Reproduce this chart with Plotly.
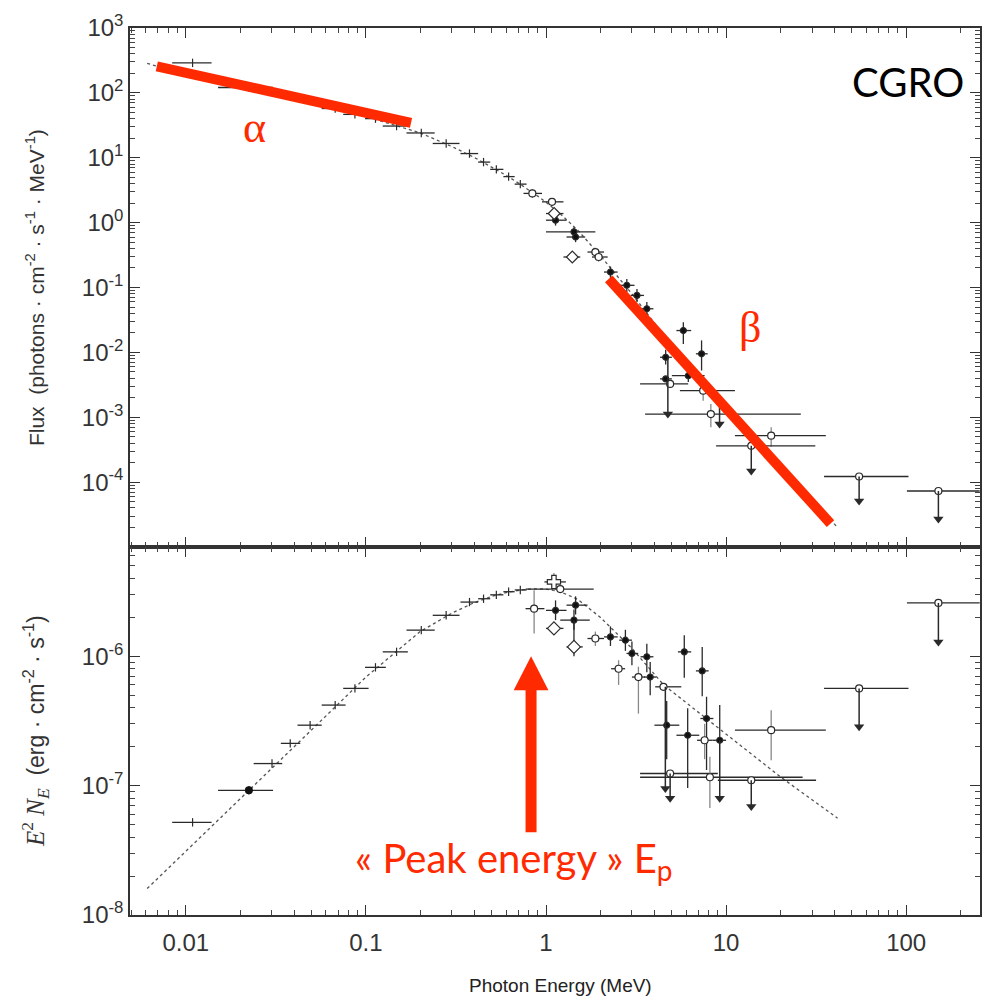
import plotly.graph_objects as go

# ---------------- data ----------------
# Band-model curve
E_model = [0.0061, 0.01, 0.02, 0.05, 0.1, 0.2, 0.3, 0.4, 0.5, 0.6, 0.7, 0.8, 0.9, 1.0,
           1.2, 1.5, 2.0, 3.0, 4.5, 7, 10, 20, 41.6]
F_model = [285, 193, 123, 67.4, 43.1, 24.2, 14.9, 10.1, 7.24, 5.37, 4.1, 3.22, 2.56, 2.06,
           1.37, 0.763, 0.312, 0.0798, 0.0185, 0.00471, 0.00156, 1.83e-4, 2.0e-5]
EF_model = [1.6e-8, 3.1e-8, 7.9e-8, 2.7e-7, 6.9e-7, 1.55e-6, 2.15e-6, 2.6e-6, 2.9e-6, 3.1e-6,
            3.22e-6, 3.3e-6, 3.32e-6, 3.3e-6, 3.15e-6, 2.75e-6, 2.0e-6, 1.15e-6, 6.0e-7,
            3.7e-7, 2.5e-7, 1.17e-7, 5.6e-8]

# low-energy points
E_low = [0.0109, 0.0224, 0.0301, 0.038, 0.049, 0.0675, 0.0869, 0.113, 0.148, 0.203,
         0.279, 0.376, 0.45, 0.53, 0.62, 0.72]
Elo_low = [0.0084, 0.0151, 0.0238, 0.0337, 0.0417, 0.0568, 0.0748, 0.0989, 0.124, 0.168,
           0.235, 0.335, 0.42, 0.49, 0.58, 0.67]
Ehi_low = [0.0139, 0.0305, 0.0343, 0.0432, 0.0568, 0.0771, 0.1035, 0.129, 0.171, 0.241,
           0.331, 0.42, 0.49, 0.58, 0.67, 0.78]
F_low = [290, 121, 102, 91.6, 76.2, 57.4, 46.6, 40.1, 30.8, 24.1, 16.6, 11.6, 8.57, 6.62,
         5.12, 3.92]
EF_low = [5.2e-8, 9.2e-8, 1.48e-7, 2.12e-7, 2.93e-7, 4.19e-7, 5.64e-7, 8.2e-7, 1.08e-6,
          1.59e-6, 2.07e-6, 2.62e-6, 2.78e-6, 2.98e-6, 3.15e-6, 3.25e-6]

# ---- top panel (photon flux) ----
Tf_E = [1.13, 1.43, 1.46, 2.28, 2.81, 3.2, 3.63, 5.79, 7.31, 4.62, 4.62, 6.17, 9.2]
Tf_V = [1.09, 0.72, 0.6, 0.173, 0.108, 0.0755, 0.047, 0.0217, 0.0095, 0.0084, 0.0039,
        0.00437, 0.0018]
Tf_Elo = [1.0, 1.0, 1.3, 2.1, 2.55, 2.95, 3.35, 5.3, 6.8, 4.3, 4.3, 5.0, 8.6]
Tf_Ehi = [1.3, 1.88, 1.65, 2.5, 3.1, 3.5, 3.95, 6.4, 7.9, 5.0, 5.0, 7.6, 9.8]
Tf_Vlo = [0.9, 0.6, 0.5, 0.14, 0.085, 0.06, 0.035, 0.0135, 0.00525, 0.0065, 0.0039,
          0.0035, 0.0018]
Tf_Vhi = [1.3, 0.85, 0.72, 0.21, 0.135, 0.095, 0.06, 0.0292, 0.0153, 0.011, 0.0039,
          0.0055, 0.0018]

To_E = [0.84, 1.08, 1.88, 1.96, 4.89, 7.46, 8.23, 17.8, 13.8, 54.8, 151]
To_V = [2.82, 2.09, 0.352, 0.295, 0.00326, 0.00257, 0.00112, 5.2e-4, 3.63e-4, 1.22e-4, 7.3e-5]
To_Elo = [0.75, 0.95, 1.7, 1.8, 3.33, 5.54, 3.55, 11.2, 8.8, 35, 101]
To_Ehi = [0.95, 1.25, 2.1, 2.2, 6.16, 11.2, 26, 35.8, 31.3, 103, 256]
To_Vlo = [2.4, 1.8, 0.3, 0.25, 0.00326, 0.0018, 7e-4, 3.5e-4, 3.63e-4, 1.22e-4, 7.3e-5]
To_Vhi = [3.3, 2.4, 0.41, 0.34, 0.00326, 0.0035, 0.0016, 7e-4, 3.63e-4, 1.22e-4, 7.3e-5]

Td_E = [1.11, 1.40]
Td_V = [1.38, 0.295]
Td_Elo = [1.0, 1.25]
Td_Ehi = [1.25, 1.55]
Td_Vlo = [1.2, 0.25]
Td_Vhi = [1.6, 0.35]

Tul_E = [4.75, 9.2, 13.8, 54.8, 151]
Tul_from = [0.0084, 0.0018, 3.63e-4, 1.22e-4, 7.3e-5]
Tul_to = [0.00112, 7.9e-4, 1.48e-4, 5.1e-5, 2.7e-5]

# ---- bottom panel (E^2 N_E) ----
Bf_E = [1.13, 1.46, 1.43, 2.28, 2.76, 3.0, 3.63, 3.79, 5.86, 7.37, 4.68, 6.12, 7.79, 9.22]
Bf_V = [2.26e-6, 2.48e-6, 1.9e-6, 1.41e-6, 1.33e-6, 1.05e-6, 9.9e-7, 6.9e-7, 1.08e-6,
        7.7e-7, 2.93e-7, 2.45e-7, 3.3e-7, 2.24e-7]
Bf_Elo = [1.0, 1.3, 1.2, 2.1, 2.55, 2.8, 3.35, 3.5, 5.4, 6.8, 4.0, 5.3, 7.2, 8.4]
Bf_Ehi = [1.3, 1.7, 1.75, 2.5, 3.0, 3.25, 3.95, 4.1, 6.4, 8.0, 5.5, 7.1, 8.5, 10.0]
Bf_Vlo = [1.9e-6, 2.1e-6, 1.6e-6, 1.2e-6, 1.1e-6, 8.5e-7, 7.5e-7, 5.0e-7, 6.8e-7, 4.9e-7,
          1.6e-7, 9.6e-8, 1.32e-7, 2.24e-7]
Bf_Vhi = [2.7e-6, 2.9e-6, 2.3e-6, 1.7e-6, 1.6e-6, 1.3e-6, 1.25e-6, 9.0e-7, 1.45e-6, 1.18e-6,
          4.5e-7, 3.96e-7, 4.86e-7, 4.2e-7]

Bo_E = [0.859, 1.2, 1.88, 2.53, 3.26, 4.49, 7.6, 17.8, 4.89, 8.13, 13.8, 54.8, 151]
Bo_V = [2.33e-6, 3.3e-6, 1.37e-6, 8.0e-7, 6.9e-7, 5.8e-7, 2.24e-7, 2.68e-7, 1.24e-7,
        1.16e-7, 1.1e-7, 5.64e-7, 2.58e-6]
Bo_Elo = [0.77, 0.77, 1.7, 2.3, 3.0, 4.04, 6.9, 11.2, 3.33, 3.33, 9.0, 35, 101]
Bo_Ehi = [0.98, 1.84, 2.1, 2.75, 3.55, 5.64, 8.4, 35.8, 9.0, 26.6, 31.6, 103, 256]
Bo_Vlo = [1.5e-6, 3.1e-6, 1.2e-6, 6.0e-7, 3.6e-7, 5.8e-7, 1.6e-7, 1.57e-7, 1.24e-7, 6.7e-8,
          1.1e-7, 5.64e-7, 2.58e-6]
Bo_Vhi = [3.24e-6, 3.5e-6, 1.55e-6, 9.3e-7, 8.3e-7, 5.8e-7, 3.0e-7, 3.83e-7, 1.24e-7,
          1.67e-7, 1.1e-7, 5.64e-7, 2.58e-6]

Bd_E = [1.107, 1.43]
Bd_V = [1.64e-6, 1.18e-6]
Bd_Elo = [1.0, 1.3]
Bd_Ehi = [1.25, 1.6]
Bd_Vlo = [1.5e-6, 1.0e-6]
Bd_Vhi = [1.8e-6, 1.9e-6]

Bc_E = [1.107]
Bc_V = [3.75e-6]
Bc_Elo = [0.98]
Bc_Ehi = [1.29]
Bc_Vlo = [3.2e-6]
Bc_Vhi = [4.4e-6]

Bul_E = [4.6, 4.89, 9.22, 13.8, 54.8, 151]
Bul_from = [5.8e-7, 1.24e-7, 2.24e-7, 1.1e-7, 5.64e-7, 2.58e-6]
Bul_to = [9.5e-8, 8.0e-8, 8.0e-8, 6.9e-8, 2.85e-7, 1.29e-6]

# annotation overlays (red)
alpha_E = [0.0069, 0.178]
alpha_F = [256, 34.5]
beta_E = [2.23, 38]
beta_F = [0.136, 2.3e-5]
peak_E = 0.826
peak_shaft = [4.36e-8, 5.6e-7]
peak_head_base = 5.45e-7
peak_tip = 1.0e-6

RED = "#ff2a00"
INK = "#2a2a2a"

fig = go.Figure()


def add_pts(E, V, Elo, Ehi, Vlo, Vhi, xa, ya, symbol, size, fill, ycol, line_w=1.2):
    fig.add_trace(go.Scatter(
        x=E, y=V, xaxis=xa, yaxis=ya, mode="markers", showlegend=False,
        marker=dict(symbol=symbol, size=size, color=fill,
                    line=dict(color=INK, width=line_w)),
        error_x=dict(type="data", symmetric=False,
                     array=[h - e for h, e in zip(Ehi, E)],
                     arrayminus=[e - l for e, l in zip(E, Elo)],
                     color=INK, thickness=1.3, width=0),
        error_y=dict(type="data", symmetric=False,
                     array=[h - v for h, v in zip(Vhi, V)],
                     arrayminus=[v - l for v, l in zip(V, Vlo)],
                     color=ycol, thickness=1.3, width=0),
    ))


def add_arrows(E, vfrom, vto, xa, ya):
    xs, ys = [], []
    for e, a, b in zip(E, vfrom, vto):
        xs += [e, e, None]
        ys += [a, b, None]
    fig.add_trace(go.Scatter(x=xs, y=ys, xaxis=xa, yaxis=ya, mode="lines",
                             line=dict(color=INK, width=1.5), showlegend=False))
    fig.add_trace(go.Scatter(x=E, y=vto, xaxis=xa, yaxis=ya, mode="markers",
                             marker=dict(symbol="triangle-down", size=9, color=INK),
                             showlegend=False))


# model curves
fig.add_trace(go.Scatter(x=E_model, y=F_model, xaxis="x", yaxis="y", mode="lines",
                         line=dict(color="#555", width=1.3, dash="3px,3px"), showlegend=False))
fig.add_trace(go.Scatter(x=E_model, y=EF_model, xaxis="x2", yaxis="y2", mode="lines",
                         line=dict(color="#555", width=1.3, dash="3px,3px"), showlegend=False))

# low-energy points
for V, ya in ((F_low, "y"), (EF_low, "y2")):
    xa = "x" if ya == "y" else "x2"
    fig.add_trace(go.Scatter(
        x=E_low, y=V, xaxis=xa, yaxis=ya, mode="markers", showlegend=False,
        marker=dict(symbol="line-ns", size=6, line=dict(color=INK, width=1.2)),
        error_x=dict(type="data", symmetric=False,
                     array=[h - e for h, e in zip(Ehi_low, E_low)],
                     arrayminus=[e - l for e, l in zip(E_low, Elo_low)],
                     color=INK, thickness=1.3, width=0)))
# filled dot at 0.022 MeV in bottom panel
fig.add_trace(go.Scatter(x=E_low[1:2], y=EF_low[1:2], xaxis="x2", yaxis="y2", mode="markers",
                         marker=dict(symbol="circle", size=8, color="#111"), showlegend=False))

# top panel data
add_pts(Tf_E, Tf_V, Tf_Elo, Tf_Ehi, Tf_Vlo, Tf_Vhi, "x", "y", "circle", 6, "#111", INK)
add_pts(To_E, To_V, To_Elo, To_Ehi, To_Vlo, To_Vhi, "x", "y", "circle", 7, "white", "#888")
add_pts(Td_E, Td_V, Td_Elo, Td_Ehi, Td_Vlo, Td_Vhi, "x", "y", "diamond", 9, "white", INK)
add_arrows(Tul_E, Tul_from, Tul_to, "x", "y")

# bottom panel data
add_pts(Bf_E, Bf_V, Bf_Elo, Bf_Ehi, Bf_Vlo, Bf_Vhi, "x2", "y2", "circle", 6, "#111", INK)
add_pts(Bo_E, Bo_V, Bo_Elo, Bo_Ehi, Bo_Vlo, Bo_Vhi, "x2", "y2", "circle", 7, "white", "#888")
add_pts(Bd_E, Bd_V, Bd_Elo, Bd_Ehi, Bd_Vlo, Bd_Vhi, "x2", "y2", "diamond", 10, "white", INK)
add_pts(Bc_E, Bc_V, Bc_Elo, Bc_Ehi, Bc_Vlo, Bc_Vhi, "x2", "y2", "cross", 11, "white", "#888")
add_arrows(Bul_E, Bul_from, Bul_to, "x2", "y2")

# red overlays
fig.add_trace(go.Scatter(x=alpha_E, y=alpha_F, xaxis="x", yaxis="y", mode="lines",
                         line=dict(color=RED, width=10), showlegend=False))
fig.add_trace(go.Scatter(x=beta_E, y=beta_F, xaxis="x", yaxis="y", mode="lines",
                         line=dict(color=RED, width=10), showlegend=False))
fig.add_trace(go.Scatter(x=[peak_E, peak_E], y=peak_shaft, xaxis="x2", yaxis="y2", mode="lines",
                         line=dict(color=RED, width=11), showlegend=False))
head_half = 1.249
fig.add_trace(go.Scatter(x=[peak_E / head_half, peak_E * head_half, peak_E, peak_E / head_half],
                         y=[peak_head_base, peak_head_base, peak_tip, peak_head_base],
                         xaxis="x2", yaxis="y2", mode="lines", fill="toself",
                         fillcolor=RED, line=dict(color=RED, width=0), showlegend=False))

# ---------------- layout ----------------
X_RANGE = [-2.31, 2.41]
split = 0.4149
axis_common = dict(type="log", showline=True, linecolor="#333", linewidth=1.5,
                   mirror="ticks", ticks="inside", ticklen=10, tickwidth=1.3,
                   tickcolor="#333", showgrid=False, zeroline=False,
                   minor=dict(ticks="inside", ticklen=5, tickwidth=1, tickcolor="#444",
                              dtick="D1", showgrid=False),
                   tickfont=dict(family="Liberation Sans", size=24, color="#333"))

x_tickvals = [0.01, 0.1, 1, 10, 100]
x_ticktext = ["0.01", "0.1", "1", "10", "100"]
yt_vals = [1e-4, 1e-3, 1e-2, 1e-1, 1e0, 1e1, 1e2, 1e3]
yt_text = ["10<sup>-4</sup>", "10<sup>-3</sup>", "10<sup>-2</sup>", "10<sup>-1</sup>",
           "10<sup>0</sup>", "10<sup>1</sup>", "10<sup>2</sup>", "10<sup>3</sup>"]
yb_vals = [1e-8, 1e-7, 1e-6]
yb_text = ["10<sup>-8</sup>", "10<sup>-7</sup>", "10<sup>-6</sup>"]

fig.update_layout(
    width=983, height=1002,
    margin=dict(l=130, r=1, t=28, b=87),
    paper_bgcolor="white", plot_bgcolor="white",
    font=dict(family="Liberation Sans", color="#333"),
    xaxis=dict(axis_common, range=X_RANGE, anchor="y", showticklabels=False,
               tickvals=x_tickvals, matches="x2"),
    xaxis2=dict(axis_common, range=X_RANGE, anchor="y2", tickvals=x_tickvals,
                ticktext=x_ticktext, ticklabelstandoff=5),
    yaxis=dict(axis_common, range=[-5, 3], domain=[split, 1], anchor="x",
               tickvals=yt_vals, ticktext=yt_text),
    yaxis2=dict(axis_common, range=[-8, -5.156], domain=[0, split], anchor="x2",
                tickvals=yb_vals, ticktext=yb_text),
    showlegend=False,
)

annots = [
    dict(text="Flux  (photons · cm<sup>-2</sup> · s<sup>-1</sup> · MeV<sup>-1</sup>)",
         x=-0.111, y=0.7075, textangle=-90, font=dict(size=21, color="#333")),
    dict(text="<span style='font-family:Liberation Serif;font-size:25px'><i>E</i><sup>2</sup> <i>N<sub>E</sub></i></span>"
              "  (erg · cm<sup>-2</sup> · s<sup>-1</sup>)",
         x=-0.111, y=0.207, textangle=-90, font=dict(size=23, color="#333")),
    dict(text="Photon Energy (MeV)", x=0.507, y=-0.079, font=dict(size=19, color="#222")),
    dict(text="α", x=0.1467, y=0.8873, font=dict(family="Liberation Serif", size=44, color=RED)),
    dict(text="β", x=0.7289, y=0.6629, font=dict(family="Liberation Serif", size=44, color=RED)),
    dict(text="CGRO", x=0.9155, y=0.9391, font=dict(family="Lato", size=40, color="#000")),
    dict(text="« Peak energy » E<sub>p</sub>", x=0.4507, y=0.062,
         font=dict(family="Lato", size=40, color=RED)),
]
for a in annots:
    a.update(xref="paper", yref="paper", showarrow=False, xanchor="center", yanchor="middle")
fig.update_layout(annotations=annots)

fig.write_html("out.html")
